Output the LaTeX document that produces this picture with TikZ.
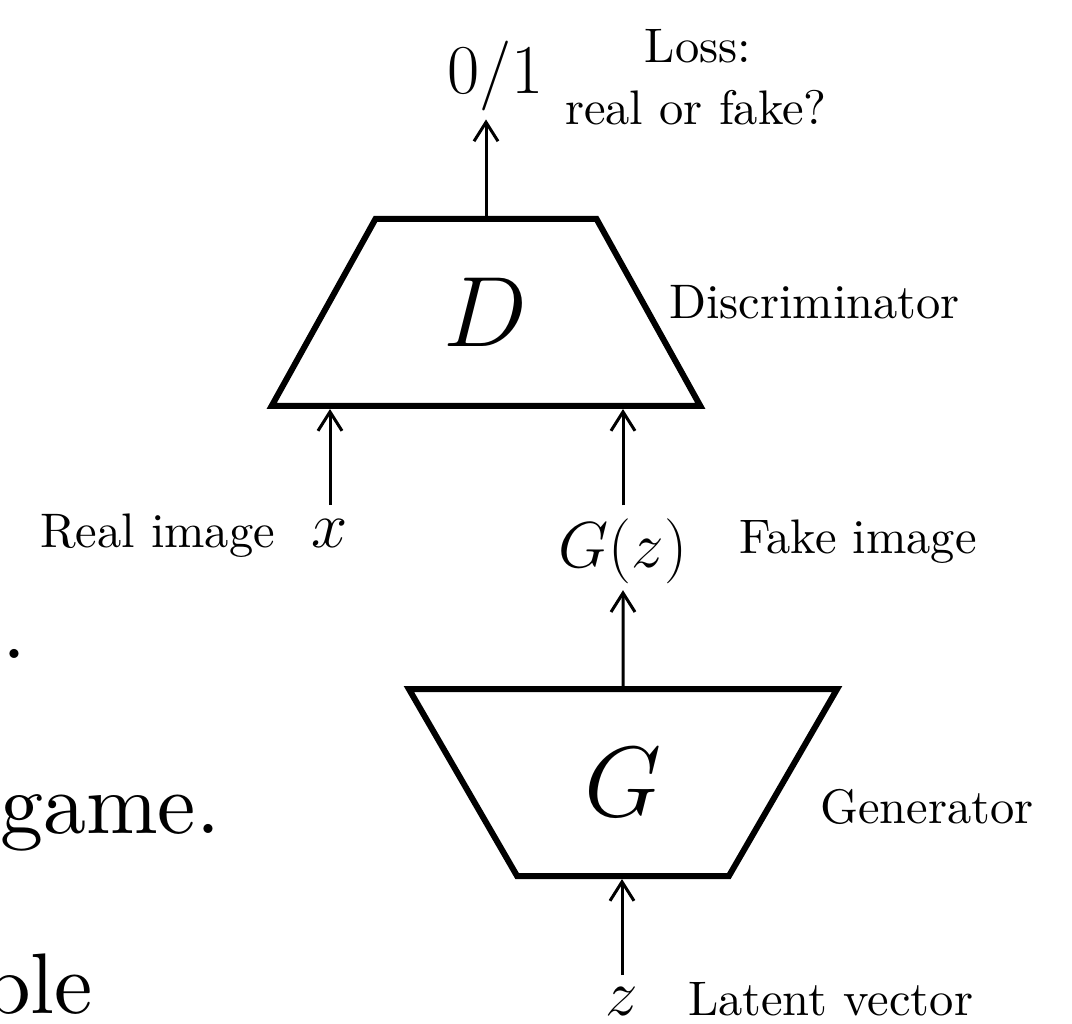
\RequirePackage{fix-cm}
\documentclass[tikz,border=0pt]{standalone}
\usepackage{fontspec}
\setmainfont{Latin Modern Roman}[OpticalSize=0]
\usetikzlibrary{arrows.meta,shapes.geometric}
\newcommand\fsz[1]{\fontsize{#1}{#1}\selectfont}
\begin{document}
\begin{tikzpicture}[x=1pt,y=-1pt,
  lab/.style={inner sep=0pt, outer sep=0pt},
  txt/.style={lab, font=\fsz{48.5}},
  mth/.style={lab, font=\fsz{65}},
  big/.style={lab, font=\fsz{86}},
  arr/.style={line width=3pt, -{Straight Barb[length=19pt,width=24pt]}},
  trapbox/.style={draw, line width=6pt, trapezium, trapezium stretches=true,
    trapezium left angle=#1, trapezium right angle=#1,
    minimum width=429pt, minimum height=187pt, inner sep=0pt, font=\fsz{100}}
]
\fill[white] (0,0) rectangle (1072,1024);
\useasboundingbox (0,0) rectangle (1072,1024);
\clip (0,0) rectangle (1072,1024);

% blocks
\node[trapbox=60]  (D) at (486,312.5) {$D$};
\node[trapbox=120] (G) at (623,782.5) {$G$};

% labels
\node[mth, font=\fsz{70}, anchor=base] (out) at (496,94) {$0/1$};
\node[txt, anchor=base] (loss) at (698,63) {Loss:};
\node[txt, anchor=base] (rof) at (696,125) {real or fake?};
\node[txt, anchor=base west] (disc) at (669,319) {Discriminator};
\node[txt, anchor=base west] (real) at (40,547) {Real image};
\node[mth, anchor=base] (xin) at (330,547) {$x$};
\node[mth, anchor=base] (Gz) at (623,567) {$G(z)$};
\node[txt, anchor=base west] (fake) at (739,553) {Fake image};
\node[txt, anchor=base west] (gen) at (820,823) {Generator};
\node[mth, anchor=base] (zin) at (622,1015) {$z$};
\node[txt, anchor=base west] (lat) at (688,1015) {Latent vector};

% cut-off slide text on the left
\node[big, anchor=base east] (f1) at (26,658) {.};
\node[big, anchor=base east] (f2) at (220,833) {game.};
\node[big, anchor=base east] (f3) at (93,1013) {ple};

% connectors
\draw[arr, shorten >=8pt] (D.north) -- (D.north |- out.south);
\draw[arr, shorten <=14pt] (xin.north) -- (xin.north |- D.south);
\draw[arr, shorten <=13pt] (Gz.north) -- (Gz.north |- D.south);
\draw[arr, shorten >=7pt] (G.north) -- (Gz.south);
\draw[arr, shorten <=12pt] (zin.north) -- (zin.north |- G.south);
\end{tikzpicture}
\end{document}
